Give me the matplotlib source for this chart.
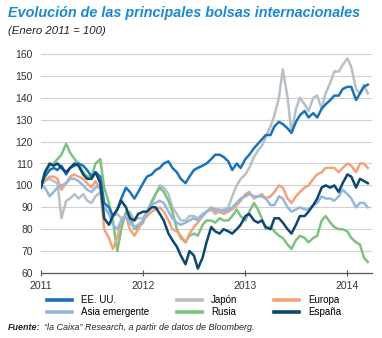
import numpy as np
import pandas as pd
import matplotlib
matplotlib.use("Agg")
import matplotlib.pyplot as plt
import matplotlib.dates as mdates

# fechas quincenales (1 y 15 de cada mes), enero 2011 - marzo 2014
fechas = pd.date_range("2011-01-01", periods=78, freq="SMS")

eeuu = [100, 104, 107, 108, 107, 109, 105, 108, 109, 110, 109, 107, 104, 106, 104, 92,
        90, 86, 89, 94, 99, 97, 94, 97, 101, 104, 105, 107, 108, 110, 111, 108,
        106, 103, 101, 104, 107, 108, 109, 110, 112, 114, 114, 113, 111, 107, 110, 108,
        112, 114, 117, 119, 121, 123, 123, 127, 129, 128, 126, 124, 129, 132, 134, 131,
        133, 131, 135, 137, 139, 141, 141, 144, 145, 145, 139, 142, 145, 146]
japon = [100, 102, 103, 102, 101, 85, 93, 94, 96, 94, 96, 93, 92, 95, 97, 90,
         87, 86, 87, 85, 86, 88, 84, 85, 85, 88, 93, 96, 100, 99, 96, 90,
         87, 84, 84, 86, 86, 85, 87, 88, 89, 87, 88, 89, 90, 95, 100, 103,
         105, 108, 113, 116, 118, 122, 127, 132, 140, 153, 140, 124, 135, 140, 137, 134,
         140, 141, 135, 142, 147, 152, 152, 155, 158, 154, 144, 142, 146, 142]
europa = [100, 102, 104, 104, 103, 98, 101, 104, 105, 104, 103, 101, 99, 102, 98, 80,
          76, 71, 76, 84, 86, 80, 77, 80, 84, 86, 88, 89, 90, 88, 84, 80,
          79, 77, 74, 78, 81, 83, 86, 88, 89, 88, 88, 87, 88, 89, 91, 93,
          96, 97, 94, 95, 96, 94, 95, 97, 100, 99, 94, 92, 95, 97, 99, 100,
          103, 105, 106, 108, 108, 108, 106, 108, 110, 109, 106, 110, 110, 108]
asia = [100, 99, 95, 97, 99, 100, 101, 103, 103, 102, 100, 98, 97, 99, 100, 90,
        87, 82, 80, 84, 86, 83, 81, 82, 84, 88, 91, 92, 93, 92, 88, 85,
        83, 82, 83, 84, 85, 84, 86, 88, 90, 89, 89, 88, 89, 90, 92, 94,
        95, 96, 95, 95, 95, 94, 91, 91, 95, 94, 90, 88, 89, 90, 89, 89,
        91, 92, 95, 94, 94, 93, 95, 98, 96, 94, 90, 92, 92, 90]
rusia = [100, 106, 109, 110, 112, 114, 119, 115, 112, 110, 106, 104, 104, 110, 112, 99,
         92, 84, 70, 80, 88, 86, 80, 81, 83, 88, 92, 96, 99, 97, 93, 88,
         80, 76, 74, 77, 78, 77, 82, 84, 84, 83, 85, 84, 84, 86, 89, 86,
         84, 88, 92, 89, 85, 80, 81, 79, 77, 76, 73, 71, 75, 77, 76, 74,
         76, 77, 84, 86, 83, 81, 80, 80, 79, 76, 74, 73, 67, 65]
espana = [99, 106, 110, 109, 110, 108, 106, 108, 110, 109, 105, 103, 103, 106, 101, 85,
          82, 86, 89, 93, 90, 85, 84, 87, 88, 88, 90, 90, 87, 84, 78, 75,
          72, 68, 64, 70, 68, 62, 67, 74, 81, 79, 78, 80, 79, 78, 80, 82,
          86, 87, 84, 83, 84, 81, 80, 85, 85, 83, 80, 78, 82, 86, 86, 88,
          91, 94, 99, 100, 99, 100, 97, 101, 105, 104, 99, 103, 102, 101]

series = [
    ("EE. UU.", eeuu, "#1a72bb"),
    ("Asia emergente", asia, "#93b6e0"),
    ("Japón", japon, "#b6c0c5"),
    ("Rusia", rusia, "#7cc27f"),
    ("Europa", europa, "#f4a27b"),
    ("España", espana, "#0b4770"),
]
orden_dibujo = ["Japón", "Rusia", "Europa", "Asia emergente", "EE. UU.", "España"]

plt.rcParams["font.family"] = ["Liberation Sans", "DejaVu Sans"]

fig = plt.figure(figsize=(3.82, 3.38), dpi=100)
ax = fig.add_axes([41 / 382, 1 - 273 / 338, 331 / 382, 219 / 338])

lineas = {}
for nombre, valores, color in series:
    z = orden_dibujo.index(nombre)
    lineas[nombre], = ax.plot(fechas, valores, color=color, lw=1.8, label=nombre,
                              zorder=3 + z, solid_joinstyle="round")

ax.set_ylim(60, 160)
ax.set_xlim(pd.Timestamp("2011-01-01"), pd.Timestamp("2014-03-30"))
ax.set_yticks(range(60, 161, 10))
ax.xaxis.set_major_locator(mdates.YearLocator())
ax.xaxis.set_major_formatter(mdates.DateFormatter("%Y"))
ax.grid(axis="y", color="#d0d0d0", lw=0.8)
ax.set_axisbelow(True)
for s in ["top", "right", "left"]:
    ax.spines[s].set_visible(False)
ax.spines["bottom"].set_color("#555555")
ax.spines["bottom"].set_linewidth(0.9)
ax.tick_params(axis="y", length=0, labelsize=7.5, colors="#333333", pad=6)
ax.tick_params(axis="x", direction="inout", length=4, width=0.8, color="#555555",
               labelsize=7.5, labelcolor="#333333", pad=4)

# leyenda: tres columnas colocadas a mano
columnas_x = [47, 177, 274]
for i, x0 in enumerate(columnas_x):
    hs = [lineas[series[2 * i][0]], lineas[series[2 * i + 1][0]]]
    leg = fig.legend(handles=hs, loc="upper left", bbox_to_anchor=(x0 / 382, 1 - 295 / 338),
                     frameon=False, fontsize=7, handlelength=2.6, handletextpad=0.9,
                     labelspacing=0.25, borderpad=0, borderaxespad=0)
    for l in leg.get_lines():
        l.set_linewidth(2.6)

fig.text(8 / 382, 1 - 13 / 338, "Evolución de las principales bolsas internacionales",
         fontsize=10.4, fontweight="bold", fontstyle="italic", color="#1c88d2", va="center")
fig.text(8 / 382, 1 - 31 / 338, "(Enero 2011 = 100)", fontsize=8.2, fontstyle="italic",
         color="#222222", va="center")
fuente = fig.text(8 / 382, 1 - 327 / 338, "Fuente:", fontsize=6.5, fontweight="bold",
                  fontstyle="italic", color="#222222", va="center")
fig.canvas.draw()
bb = fuente.get_window_extent()
fig.text((bb.x1 + 3) / 382, 1 - 327 / 338,
         "“la Caixa” Research, a partir de datos de Bloomberg.",
         fontsize=6.5, fontstyle="italic", color="#222222", va="center")

fig.savefig("out.png", dpi=100)
